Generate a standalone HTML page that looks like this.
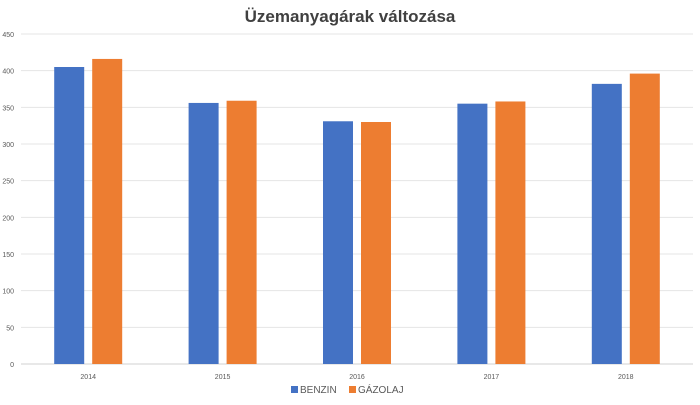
<!DOCTYPE html>
<html><head><meta charset="utf-8"><style>
body{margin:0;background:#fff;}
svg{display:block;font-family:"Liberation Sans",sans-serif;}
</style></head><body>
<svg id="c" width="700" height="405">
<text x="350" y="22" text-anchor="middle" font-size="17" font-weight="bold" fill="#404040">Üzemanyagárak változása</text>
<g id="grid"></g><g id="bars"></g><g id="xl"></g>
<g>
<rect x="291" y="386" width="7" height="7" fill="#4472C4"/>
<text x="300" y="393" font-size="10" fill="#595959">BENZIN</text>
<rect x="349" y="386" width="7" height="7" fill="#ED7D31"/>
<text x="358" y="393" font-size="10" fill="#595959">GÁZOLAJ</text>
</g>
</svg>
<script>
const categories=["2014","2015","2016","2017","2018"];
const benzin=[405,356,331,355,382];
const gazolaj=[416,359,330,358,396];
const yTicks=[0,50,100,150,200,250,300,350,400,450];
const NS="http://www.w3.org/2000/svg";
const x0=21,x1=693,yb=364,yt=34,ymax=450;
const y=v=>yb-(v/ymax)*(yb-yt);
const step=(x1-x0)/categories.length;
const cx=i=>x0+step*(i+0.5);
function mk(t,a,p){const e=document.createElementNS(NS,t);for(const k in a)e.setAttribute(k,a[k]);p.appendChild(e);return e;}
const g=document.getElementById('grid');
yTicks.forEach(t=>{
 const l=mk('line',{x1:x0,x2:x1,y1:y(t),y2:y(t),stroke:t===0?'#d0d0d0':'#e4e4e4','stroke-width':1},g);
 
 
 const tx=mk('text',{x:14,y:y(t)+3,'text-anchor':'end','font-size':7,fill:'#595959'},g);
 tx.textContent=t;
 
 
});
const b=document.getElementById('bars'),xl=document.getElementById('xl');
const bw=30,gap=8;
categories.forEach((c,i)=>{
 const r1=mk('rect',{x:cx(i)-gap/2-bw,y:y(benzin[i]),width:bw,height:yb-y(benzin[i]),fill:'#4472C4'},b);
 
 
 const r2=mk('rect',{x:cx(i)+gap/2,y:y(gazolaj[i]),width:bw,height:yb-y(gazolaj[i]),fill:'#ED7D31'},b);
 
 
 const t=mk('text',{x:cx(i),y:379,'text-anchor':'middle','font-size':7,fill:'#595959'},xl);
 t.textContent=c;
 
 
});
</script>
</body></html>
